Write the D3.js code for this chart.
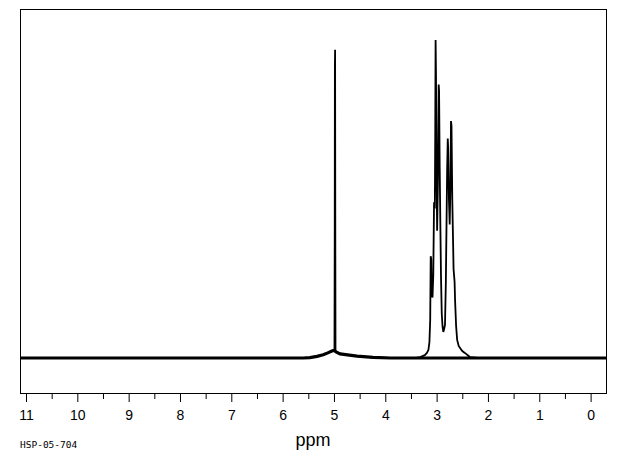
<!DOCTYPE html>
<html>
<head>
<meta charset="utf-8">
<script src="https://cdn.jsdelivr.net/npm/d3@7"></script>
<style>
  html, body { margin: 0; padding: 0; background: #fff; }
  svg { display: block; }
</style>
</head>
<body>
<svg id="chart" width="620" height="455"></svg>
<script>
// axis ticks (ppm)
const majorTicks = [11, 10, 9, 8, 7, 6, 5, 4, 3, 2, 1, 0];
const minorTicks = [10.5, 9.5, 8.5, 7.5, 6.5, 5.5, 4.5, 3.5, 2.5, 1.5, 0.5];
const tickLabels = ["11", "10", "9", "8", "7", "6", "5", "4", "3", "2", "1", "0"];

// flat baseline
const baselinePpm = [11.12, 10.0, 9.0, 8.0, 7.0, 6.0, 5.6, 3.9, 3.4, 2.2, 1.5, 0.5, -0.3];
const baselineInt = [0, 0, 0, 0, 0, 0, 0, 0, 0, 0, 0, 0, 0];

// broad hump under the ~5 ppm line
const humpPpm = [5.47, 5.33, 5.21, 5.12, 5.03, 4.995, 4.96, 4.88, 4.70, 4.55, 4.24];
const humpInt = [0.1, 0.5, 1.0, 1.6, 2.3, 2.4, 1.9, 1.3, 0.9, 0.6, 0.2];

// sharp singlet near 4.98 ppm
const singletPpm = [4.990, 4.985, 4.982, 4.978, 4.974, 4.970];
const singletInt = [2.4, 40, 91.5, 96.9, 40, 2.2];

// multiplet 3.1 - 2.6 ppm
const multipletPpm = [3.32, 3.23, 3.19, 3.16, 3.14, 3.125, 3.115, 3.105, 3.095, 3.08, 3.065, 3.05, 3.035,
  3.027, 3.02, 3.012, 3.002, 2.99, 2.975, 2.96, 2.952, 2.94, 2.928, 2.914, 2.90, 2.885, 2.87, 2.855,
  2.837, 2.82, 2.805, 2.795, 2.783, 2.775, 2.76, 2.745, 2.73, 2.72, 2.71, 2.695, 2.68, 2.67, 2.66,
  2.65, 2.64, 2.62, 2.60, 2.57, 2.54, 2.50, 2.45, 2.35];
const multipletInt = [0.3, 0.9, 1.6, 2.5, 5, 12, 32, 31, 20, 19, 26, 49, 47,
  70, 100, 89, 60, 40, 55, 86, 84, 60, 43, 25, 14, 10, 8.2, 9,
  10.4, 24, 45, 59, 69, 66, 50, 42, 55, 74.5, 73, 50, 37, 28, 26,
  24, 18, 10, 5.7, 3.8, 3.1, 2.2, 1.6, 0.3];

const zip = (a, b) => a.map((d, i) => ({ ppm: d, val: b[i] }));
const spectrum = [
  ...zip(baselinePpm, baselineInt),
  ...zip(humpPpm, humpInt),
  ...zip(singletPpm, singletInt),
  ...zip(multipletPpm, multipletInt)
].sort((a, b) => b.ppm - a.ppm);

// baseline + hump only, used for the noisy-looking band
const floor = [
  ...zip(baselinePpm, baselineInt),
  ...zip(humpPpm, humpInt)
].sort((a, b) => b.ppm - a.ppm);

const frame = { left: 20, top: 9, right: 606, bottom: 394 };

const x = d3.scaleLinear().domain([11, 0]).range([26, 590.6]);
const y = d3.scaleLinear().domain([0, 100]).range([358, 40]);

const svg = d3.select("#chart");

svg.append("defs").append("clipPath").attr("id", "plot-clip")
  .append("rect")
  .attr("x", frame.left)
  .attr("y", frame.top)
  .attr("width", frame.right - frame.left)
  .attr("height", frame.bottom - frame.top);

const line = d3.line().x(d => x(d.ppm)).y(d => y(d.val));

//noise band along the baseline (gap where the multiplet sits)
svg.append("path")
  .datum(floor)
  .attr("clip-path", "url(#plot-clip)")
  .attr("fill", "none")
  .attr("stroke", "#000")
  .attr("stroke-width", 3.2)
  .attr("d", line.defined(d => d.ppm > 3.38 || d.ppm < 2.3)(floor));

line.defined(() => true);

//spectrum trace
svg.append("path")
  .datum(spectrum)
  .attr("clip-path", "url(#plot-clip)")
  .attr("fill", "none")
  .attr("stroke", "#000")
  .attr("stroke-width", 1.8)
  .attr("d", line);

//frame
svg.append("rect")
  .attr("x", frame.left + 0.5)
  .attr("y", frame.top + 0.5)
  .attr("width", frame.right - frame.left)
  .attr("height", frame.bottom - frame.top - 1)
  .attr("fill", "none")
  .attr("stroke", "#000")
  .attr("stroke-width", 1);

//major ticks + labels
const xAxis = d3.axisBottom(x)
  .tickValues(majorTicks)
  .tickSize(8)
  .tickFormat((d, i) => tickLabels[i]);

const axisG = svg.append("g")
  .attr("transform", `translate(0, ${frame.bottom})`)
  .call(xAxis);

axisG.select(".domain").remove();
axisG.selectAll(".tick line").attr("stroke", "#000");
axisG.selectAll(".tick text")
  .attr("y", 26)
  .attr("dy", 0)
  .attr("fill", "#000")
  .style("font-family", "'Liberation Sans', Arial, sans-serif")
  .style("font-size", "14px");

//minor ticks
const minorAxis = d3.axisBottom(x)
  .tickValues(minorTicks)
  .tickSize(5)
  .tickFormat("");

const minorG = svg.append("g")
  .attr("transform", `translate(0, ${frame.bottom})`)
  .call(minorAxis);
minorG.select(".domain").remove();

//axis title
svg.append("text")
  .attr("x", (frame.left + frame.right) / 2)
  .attr("y", 446)
  .attr("text-anchor", "middle")
  .style("font-family", "'Liberation Sans', Arial, sans-serif")
  .style("font-size", "18px")
  .text("ppm");

//sample id
svg.append("text")
  .attr("x", 20)
  .attr("y", 448)
  .style("font-family", "'DejaVu Sans Mono', monospace")
  .style("font-size", "9.5px")
  .text("HSP-05-704");
</script>
</body>
</html>
